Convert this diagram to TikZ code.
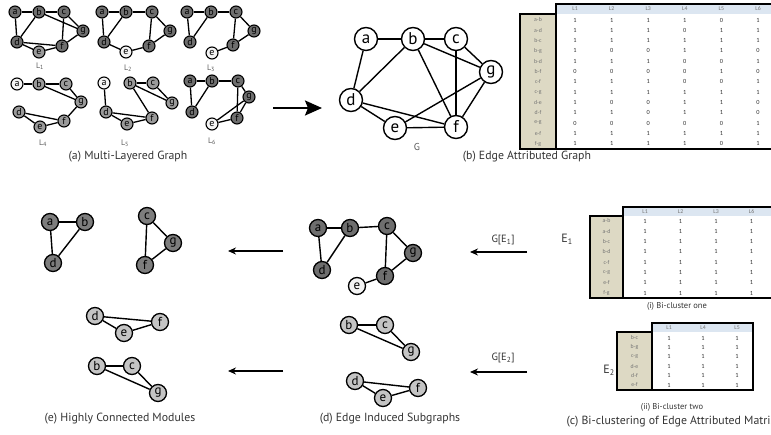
\documentclass[tikz,border=0pt]{standalone}
\usepackage{fontspec}
\setmainfont{PT Sans}
\newfontfamily\tabfont{Carlito}
\usetikzlibrary{arrows.meta}
\definecolor{dk}{HTML}{6E6E6E}
\definecolor{md}{HTML}{9A9A9A}
\definecolor{lt}{HTML}{C4C4C4}
\definecolor{wh}{HTML}{F4F4F4}
\definecolor{hdr}{HTML}{DCE6F1}
\definecolor{tanc}{HTML}{DDD9C4}
\definecolor{txt}{HTML}{333333}
\begin{document}
\begin{tikzpicture}[x=1pt,y=-1pt,
  sn/.style={circle,draw=black,line width=1.1pt,minimum size=12pt,inner sep=0pt,font=\fontsize{10}{10}\selectfont,text=black},
  mn/.style={circle,draw=black,line width=1.3pt,minimum size=17pt,inner sep=0pt,font=\fontsize{13}{13}\selectfont,text=black},
  bn/.style={circle,draw=black,line width=1.4pt,minimum size=23pt,inner sep=0pt,font=\fontsize{17}{17}\selectfont,fill=white},
  se/.style={line width=1.3pt},
  me/.style={line width=1.4pt},
  be/.style={line width=1.4pt},
  lay/.style={font=\fontsize{8}{8}\selectfont,text=black!65},
  captxt/.style={font=\fontsize{11.8}{13}\selectfont,text=txt},
  scap/.style={font=\fontsize{8.5}{9}\selectfont,text=txt},
  tl/.style={font=\tabfont\fontsize{5.8}{6}\selectfont,text=black!55},
  tv/.style={font=\tabfont\fontsize{6.3}{6}\selectfont,text=black!80},
  tb/.style={line width=2.4pt,line cap=rect},
  sarr/.style={line width=1.2pt,-{Stealth[length=8pt,width=7pt]}},
  barr/.style={line width=2pt,-{Stealth[length=17pt,width=15pt,inset=3pt]}},
  elab/.style={font=\fontsize{10.5}{10}\selectfont,text=txt}
]
\useasboundingbox (0,0) rectangle (771,435);

% ---------------- (a) layers ----------------
% L1
\node[sn,fill=dk] (1a) at (15,12) {a};
\node[sn,fill=dk] (1b) at (39,12) {b};
\node[sn,fill=dk] (1c) at (64,12) {c};
\node[sn,fill=dk] (1g) at (83,31) {g};
\node[sn,fill=dk] (1d) at (17,42) {d};
\node[sn,fill=dk] (1f) at (62,46) {f};
\node[sn,fill=md] (1e) at (39,52) {e};
\foreach \u/\v in {a/b,b/c,a/d,b/d,b/g,c/g,c/f,d/f,d/e,e/f,f/g} \draw[se] (1\u) -- (1\v);
\node[lay] (l1) at (40,66) {L\textsubscript{1}};
% L2
\node[sn,fill=dk] (2a) at (102,12) {a};
\node[sn,fill=dk] (2b) at (126,12) {b};
\node[sn,fill=dk] (2c) at (152,12) {c};
\node[sn,fill=dk] (2g) at (170,31) {g};
\node[sn,fill=dk] (2d) at (104,42) {d};
\node[sn,fill=dk] (2f) at (149,46) {f};
\node[sn,fill=wh] (2e) at (126,52) {e};
\foreach \u/\v in {a/b,b/c,a/d,b/d,c/f,c/g,f/g,d/e,e/f} \draw[se] (2\u) -- (2\v);
\node[lay] (l2) at (128,68) {L\textsubscript{2}};
% L3
\node[sn,fill=dk] (3a) at (187,12) {a};
\node[sn,fill=dk] (3b) at (211,12) {b};
\node[sn,fill=dk] (3c) at (236,12) {c};
\node[sn,fill=dk] (3g) at (254,31) {g};
\node[sn,fill=dk] (3d) at (190,42) {d};
\node[sn,fill=dk] (3f) at (233,45) {f};
\node[sn,fill=wh] (3e) at (212,53) {e};
\foreach \u/\v in {a/b,b/c,a/d,b/d,c/f,c/g,f/g,e/f} \draw[se] (3\u) -- (3\v);
\node[lay] (l3) at (211,68) {L\textsubscript{3}};
% L4
\node[sn,fill=wh] (4a) at (17,84) {a};
\node[sn,fill=md] (4b) at (39,84) {b};
\node[sn,fill=md] (4c) at (66,84) {c};
\node[sn,fill=md] (4g) at (81,102) {g};
\node[sn,fill=md] (4d) at (19,112) {d};
\node[sn,fill=md] (4f) at (64,121) {f};
\node[sn,fill=md] (4e) at (40,127) {e};
\foreach \u/\v in {a/b,b/c,b/g,c/g,f/g,d/f,d/e,e/f} \draw[se] (4\u) -- (4\v);
\node[lay] (l4) at (43,143) {L\textsubscript{4}};
% L5
\node[sn,fill=wh] (5a) at (104,83) {a};
\node[sn,fill=md] (5b) at (130,83) {b};
\node[sn,fill=md] (5c) at (153,83) {c};
\node[sn,fill=md] (5g) at (172,103) {g};
\node[sn,fill=md] (5d) at (106,112) {d};
\node[sn,fill=md] (5f) at (152,118) {f};
\node[sn,fill=md] (5e) at (127,124) {e};
\foreach \u/\v in {a/d,b/c,b/g,c/g,b/f,d/f,d/e,e/f} \draw[se] (5\u) -- (5\v);
\node[lay] (l5) at (125,143) {L\textsubscript{5}};
% L6
\node[sn,fill=dk] (6a) at (190,81) {a};
\node[sn,fill=dk] (6b) at (212,81) {b};
\node[sn,fill=dk] (6c) at (238,81) {c};
\node[sn,fill=dk] (6g) at (249,97) {g};
\node[sn,fill=dk] (6d) at (192,112) {d};
\node[sn,fill=dk] (6f) at (237,118) {f};
\node[sn,fill=wh] (6e) at (212,124) {e};
\foreach \u/\v in {a/b,b/c,a/d,b/d,c/f,c/g,e/g,e/f,f/g} \draw[se] (6\u) -- (6\v);
\node[lay] (l6) at (212,141) {L\textsubscript{6}};
\node[captxt] (capa) at (128,157) {(a) Multi-Layered Graph};

% big arrow
\coordinate (ba1) at (273,108);
\coordinate (ba2) at (322,108);
\draw[barr] (ba1) -- (ba2);

% ---------------- (b) graph G ----------------
\node[bn] (Ga) at (366,39) {a};
\node[bn] (Gb) at (413,39) {b};
\node[bn] (Gc) at (456,39) {c};
\node[bn] (Gg) at (491,72) {g};
\node[bn] (Gd) at (351,100) {d};
\node[bn] (Ge) at (395,128) {e};
\node[bn] (Gf) at (456,127) {f};
\foreach \u/\v in {a/b,b/c,a/d,b/d,b/g,b/f,c/g,c/f,d/e,d/f,e/f,e/g,f/g} \draw[be] (G\u) -- (G\v);
\node[lay,font=\fontsize{10}{10}\selectfont] (Glab) at (417,147) {G};
\node[captxt] (capb) at (527,157) {(b) Edge Attributed Graph};

% table (b)
\fill[hdr] (556,4) rectangle (775,14);
\fill[tanc] (520,14) rectangle (556,149);
\foreach \h [count=\j from 0] in {L1,L2,L3,L4,L5,L6}
  \node[tl] at (575+36.6*\j,9) {\h};
\foreach \lab [count=\i from 0] in {a-b,a-d,b-c,b-g,b-d,b-f,c-f,c-g,d-e,d-f,e-g,e-f,f-g}
  \node[tl] at (538,20+10.3*\i) {\lab};
\foreach \vals [count=\i from 0] in {{1,1,1,1,0,1},{1,1,1,0,1,1},{1,1,1,1,1,1},{1,0,0,1,1,0},{1,1,1,0,0,1},{0,0,0,0,1,0},{1,1,1,0,0,1},{1,1,1,1,1,1},{1,0,0,1,1,0},{1,1,0,1,1,0},{0,0,0,0,0,1},{1,1,1,1,1,1},{1,1,1,1,0,1}}
  {\foreach \v [count=\j from 0] in \vals
     \node[tv] at (575+36.6*\j,20+10.3*\i) {\v};}
\draw[tb] (520,14) -- (556,14);
\draw[tb] (556,4) -- (776,4);
\draw[tb] (520,14) -- (520,149) -- (776,149);
\draw[tb] (556,4) -- (556,149);

% ---------------- (c) bi-clusters ----------------
\node[elab,font=\fontsize{12}{12}\selectfont] (E1) at (567,239) {E\textsubscript{1}};
\fill[hdr] (623,207) rectangle (775,216);
\fill[tanc] (590,216) rectangle (623,298);
\foreach \h [count=\j from 0] in {L1,L2,L3,L6}
  \node[tl] at (645+35.5*\j,211.5) {\h};
\foreach \lab [count=\i from 0] in {a-b,a-d,b-c,b-d,c-f,c-g,e-f,f-g}
  {\node[tl] at (606.5,221+10.3*\i) {\lab};
   \foreach \j in {0,1,2,3} \node[tv] at (645+35.5*\j,221+10.3*\i) {1};}
\draw[tb] (590,216) -- (623,216);
\draw[tb] (623,207) -- (776,207);
\draw[tb] (590,216) -- (590,298) -- (776,298);
\draw[tb] (623,207) -- (623,298);
\node[scap] (capi) at (677,306) {(i) Bi-cluster one};

\node[elab,font=\fontsize{12}{12}\selectfont] (E2) at (609,370) {E\textsubscript{2}};
\fill[hdr] (652,323) rectangle (753,332);
\fill[tanc] (617,332) rectangle (652,390);
\foreach \h [count=\j from 0] in {L1,L4,L5}
  \node[tl] at (669+34*\j,327.5) {\h};
\foreach \lab [count=\i from 0] in {b-c,b-g,c-g,d-e,d-f,e-f}
  {\node[tl] at (634.5,338+9.4*\i) {\lab};
   \foreach \j in {0,1,2} \node[tv] at (669+34*\j,338+9.4*\i) {1};}
\draw[tb] (617,332) -- (652,332);
\draw[tb] (652,323) -- (753,323) -- (753,390) -- (617,390) -- (617,332);
\draw[tb] (652,323) -- (652,390);
\node[scap] (capii) at (672,407) {(ii) Bi-cluster two};
\node[captxt,anchor=west] (capc) at (563,422) {(c) Bi-clustering of Edge Attributed Matrix};

% arrows G[E]
\coordinate (g1s) at (527,252);
\coordinate (g1t) at (470,252);
\draw[sarr] (g1s) -- (g1t);
\node[elab] (g1l) at (503,240) {G[E\textsubscript{1}]};
\coordinate (g2s) at (527,372);
\coordinate (g2t) at (470,372);
\draw[sarr] (g2s) -- (g2t);
\node[elab] (g2l) at (503,358) {G[E\textsubscript{2}]};

% ---------------- (d) edge induced subgraphs ----------------
\node[mn,fill=dk] (da) at (318,228) {a};
\node[mn,fill=dk] (db) at (350,228) {b};
\node[mn,fill=dk] (dc) at (387,226) {c};
\node[mn,fill=dk] (dg) at (413,253) {g};
\node[mn,fill=dk] (dd) at (322,270) {d};
\node[mn,fill=dk] (df) at (385,276) {f};
\node[mn,fill=wh] (de) at (357,286) {e};
\foreach \u/\v in {a/b,b/c,a/d,b/d,c/f,c/g,g/f,e/f} \draw[me] (d\u) -- (d\v);
\node[mn,fill=lt] (d2b) at (349,325) {b};
\node[mn,fill=lt] (d2c) at (385,325) {c};
\node[mn,fill=lt] (d2g) at (411,352) {g};
\node[mn,fill=lt] (d2d) at (355,381) {d};
\node[mn,fill=lt] (d2f) at (418,388) {f};
\node[mn,fill=lt] (d2e) at (383,398) {e};
\foreach \u/\v in {b/c,b/g,c/g,d/f,d/e,e/f} \draw[me] (d2\u) -- (d2\v);
\node[captxt] (capd) at (390,419) {(d) Edge Induced Subgraphs};

% arrows d -> e
\coordinate (h1s) at (283,251);
\coordinate (h1t) at (228,251);
\draw[sarr] (h1s) -- (h1t);
\coordinate (h2s) at (283,371);
\coordinate (h2t) at (228,371);
\draw[sarr] (h2s) -- (h2t);

% ---------------- (e) highly connected modules ----------------
\node[mn,fill=dk!90!white] (ea) at (50,222) {a};
\node[mn,fill=dk!90!white] (eb) at (85,222) {b};
\node[mn,fill=dk!90!white] (ed) at (53,263) {d};
\foreach \u/\v in {a/b,a/d,b/d} \draw[me] (e\u) -- (e\v);
\node[mn,fill=dk!90!white] (ec) at (147,216) {c};
\node[mn,fill=dk!90!white] (eg) at (173,243) {g};
\node[mn,fill=dk!90!white] (ef) at (145,265) {f};
\foreach \u/\v in {c/g,c/f,g/f} \draw[me] (e\u) -- (e\v);
\node[mn,fill=lt] (e2d) at (95,316) {d};
\node[mn,fill=lt] (e2f) at (160,322) {f};
\node[mn,fill=lt] (e2e) at (124,333) {e};
\foreach \u/\v in {d/f,d/e,e/f} \draw[me] (e2\u) -- (e2\v);
\node[mn,fill=lt] (e3b) at (97,366) {b};
\node[mn,fill=lt] (e3c) at (132,366) {c};
\node[mn,fill=lt] (e3g) at (158,393) {g};
\foreach \u/\v in {b/c,b/g,c/g} \draw[me] (e3\u) -- (e3\v);
\node[captxt] (cape) at (120,419) {(e) Highly Connected Modules};
\end{tikzpicture}
\end{document}
